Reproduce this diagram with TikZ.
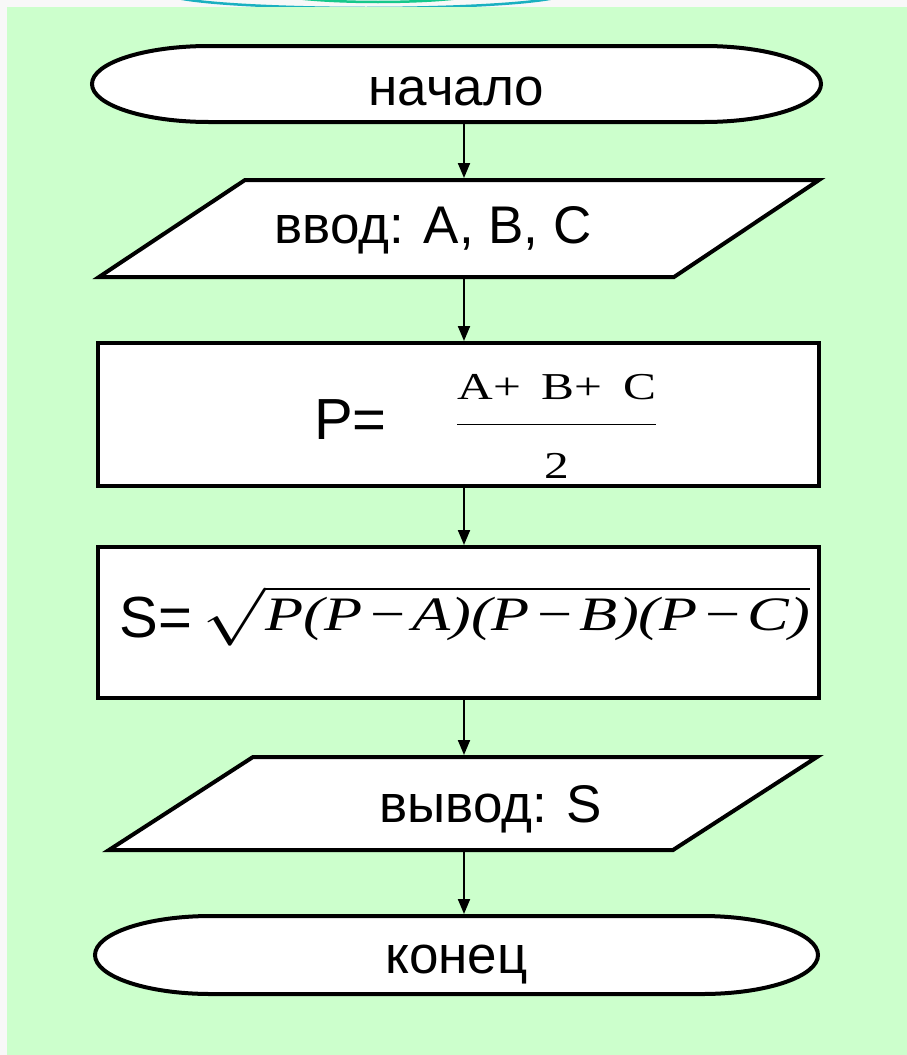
\RequirePackage{fix-cm}
\documentclass[tikz,border=0pt]{standalone}
\usepackage{fontspec}
\setmainfont{Liberation Sans}
\newfontfamily\timesfont{Liberation Serif}
\usepackage{amsmath}
\usepackage{graphicx}
\usetikzlibrary{arrows.meta}

\definecolor{slidegreen}{RGB}{204,255,204}
\definecolor{pagegray}{RGB}{248,248,248}
\definecolor{ringteal}{RGB}{26,176,192}
\definecolor{ringgreen}{RGB}{22,200,140}

\tikzset{
  shapeline/.style={draw=black, line width=4pt, fill=white},
  blockbox/.style={inner sep=0pt, outer sep=2pt, font=\fontsize{53}{60}\selectfont},
  procbox/.style={shapeline, rectangle, minimum width=721pt, inner sep=0pt,
    font=\fontsize{58}{60}\selectfont},
  flow/.style={->, line width=2pt},
}

\begin{document}
\begin{tikzpicture}[x=1pt, y=-1pt, >={Stealth[length=15pt, width=12pt, inset=0pt]}]
        \useasboundingbox (0,0) rectangle (907,1055);
        % Slide background
        \fill[pagegray] (0,0) rectangle (907,1055);
        \draw[ringteal, line width=2.5pt] (366,-7) ellipse [x radius=200pt, y radius=15pt];
        \draw[ringgreen, line width=2.5pt] (378,-10) ellipse [x radius=110pt, y radius=12pt];
        \fill[slidegreen] (7,7) rectangle (907,1055);
        \coordinate (ax) at (464,0);

        % Outlines of start, input, output and end
        \draw[shapeline] (209,46) -- (704,46)
            arc[start angle=90, end angle=-90, x radius=117pt, y radius=38pt]
            -- (209,122) arc[start angle=270, end angle=90, x radius=117pt, y radius=38pt] -- cycle;
        \draw[shapeline] (99,277) -- (245,180) -- (819,180) -- (674,277) -- cycle;
        \draw[shapeline] (109,850) -- (253,757) -- (817,757) -- (673,850) -- cycle;
        \draw[shapeline] (211,916) -- (702,916)
            arc[start angle=90, end angle=-90, x radius=116pt, y radius=39pt]
            -- (211,994) arc[start angle=270, end angle=90, x radius=116pt, y radius=39pt] -- cycle;

        % Blocks
        \node[blockbox, minimum width=729pt, minimum height=76pt, text height=42pt, text depth=0pt]
            (start) at (456.5,84) {начало};
        \node[blockbox, minimum width=720pt, minimum height=97pt, text height=38pt, text depth=9pt]
            (in) at (459,228.5) {ввод: A, B, C\hspace*{52pt}};
        \node[procbox, minimum height=143pt, text height=72pt, text depth=23pt] (calcp) at (458.5,414.5)
            {\hspace*{55pt}P=\hspace{69pt}\scalebox{1.3}[1]{$\dfrac{\hbox{\fontsize{38}{40}\timesfont\selectfont A+\kern16pt B+\kern16pt C}}%
              {\hbox{\fontsize{38}{40}\timesfont\selectfont 2}}$}};
        \node[procbox, minimum height=151pt, text height=55pt, text depth=26pt] (calcs) at (458.5,622.5)
            {\hspace*{13pt}S=\hspace{10pt}\raisebox{7pt}{\scalebox{1.3}[1]{$\sqrt{\hbox{\fontsize{48}{50}\timesfont\itshape\selectfont
              P(P\kern3pt−\kern3pt A)(P\kern3pt−\kern3pt B)(P\kern3pt−\kern3pt C)}}$}}};
        \node[blockbox, minimum width=708pt, minimum height=93pt, text height=46pt, text depth=9pt]
            (out) at (463,803.5) {\hspace*{56pt}вывод: S};
        \node[blockbox, minimum width=723pt, minimum height=78pt, text height=36pt, text depth=0pt]
            (stop) at (456.5,955) {конец};

        % Arrows
        \draw[flow] (start.south -| ax) -- (in.north -| ax);
        \draw[flow] (in.south -| ax) -- (calcp.north -| ax);
        \draw[flow] (calcp.south -| ax) -- (calcs.north -| ax);
        \draw[flow] (calcs.south -| ax) -- (out.north -| ax);
        \draw[flow] (out.south -| ax) -- (stop.north -| ax);
\end{tikzpicture}
\end{document}
